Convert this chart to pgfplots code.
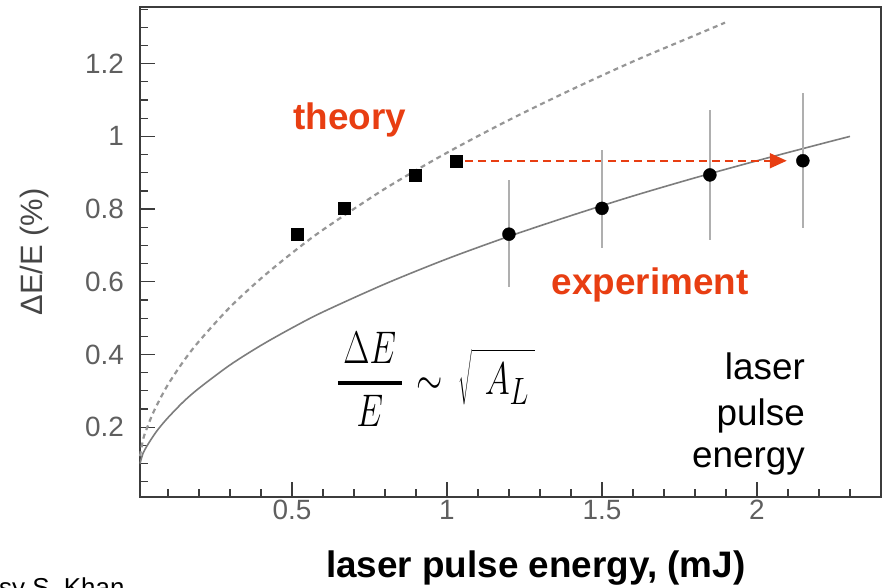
\RequirePackage{fix-cm}
\documentclass[border=0pt]{standalone}
\usepackage[no-math]{fontspec}
\setmainfont{Liberation Sans}
\usepackage{graphicx}
\usepackage{pgfplots}
\pgfplotsset{compat=1.18}
\usetikzlibrary{arrows.meta}
\definecolor{myred}{RGB}{232,62,18}
\definecolor{tickgray}{RGB}{95,95,95}
\definecolor{labgray}{RGB}{70,70,70}
\definecolor{solidgray}{RGB}{125,125,125}
\definecolor{dashgray}{RGB}{150,150,150}
\definecolor{errgray}{RGB}{175,175,175}
\definecolor{framegray}{RGB}{60,60,60}
\begin{document}
\begin{tikzpicture}[x=1bp,y=1bp]
\path[use as bounding box] (0,0) rectangle (886,588);
\begin{axis}[
  at={(140bp,91bp)}, anchor=south west,
  scale only axis, width=741bp, height=490bp,
  xmin=0.01, xmax=2.40, ymin=0.008, ymax=1.356,
  axis line style={framegray, line width=2bp},
  tick pos=left, tick align=inside,
  major tick length=15bp, minor tick length=8bp,
  tick style={framegray, line width=1.2bp},
  xtick={0.5,1,1.5,2}, xticklabels={0.5,1,1.5,2},
  ytick={0.2,0.4,0.6,0.8,1,1.2}, yticklabels={0.2,0.4,0.6,0.8,1,1.2},
  minor xtick={0.1,0.2,...,2.35},
  minor ytick={0.05,0.1,...,1.33},
  ticklabel style={font=\fontsize{28}{30}\selectfont, text=tickgray},
  yticklabel style={xshift=-12.5bp},
  xlabel={laser pulse energy, (mJ)},
  xlabel style={font=\bfseries\fontsize{37}{40}\selectfont, at={(axis description cs:0.534,0)}, anchor=base, yshift=-81bp, inner sep=0pt},
  ylabel={ΔE/E (\%)},
  ylabel style={font=\fontsize{31}{34}\selectfont, text=labgray, at={(axis description cs:-0.1417,0.5)}, anchor=center},
  clip=false,
]
% theory curve (dashed)
\addplot[dashgray, line width=2.2bp, dash pattern=on 5bp off 4bp, smooth] coordinates {
(0.01,0.120) (0.02,0.167) (0.03,0.192) (0.05,0.235) (0.07,0.270) (0.1,0.317)
(0.15,0.381) (0.2,0.436) (0.3,0.530) (0.4,0.609) (0.5,0.679) (0.6,0.743)
(0.8,0.856) (1.0,0.955) (1.2,1.045) (1.4,1.128) (1.6,1.206) (1.8,1.278) (1.897,1.313)
};
% experiment curve (solid)
\addplot[solidgray, line width=1.6bp, smooth] coordinates {
(0.01,0.100) (0.02,0.129) (0.03,0.145) (0.05,0.172) (0.07,0.196) (0.1,0.226)
(0.15,0.270) (0.2,0.307) (0.3,0.371) (0.4,0.425) (0.5,0.473) (0.6,0.517)
(0.8,0.594) (1.0,0.663) (1.2,0.725) (1.4,0.782) (1.6,0.836) (1.8,0.886)
(2.0,0.933) (2.2,0.978) (2.3,1.000)
};
% red arrow
\addplot[myred, line width=2bp, dash pattern=on 8bp off 5bp, -{Triangle[length=17bp,width=15bp]}] coordinates {(1.058,0.933) (2.096,0.933)};
% theory squares
\addplot[only marks, mark=square*, mark size=6bp, black] coordinates {(0.516,0.732) (0.668,0.803) (0.897,0.894) (1.029,0.933)};
% experiment points with error bars
\addplot[only marks, mark=*, mark size=6.5bp, black,
  error bars/.cd, y dir=both, y explicit, error mark=none,
  error bar style={errgray, line width=1.8bp}]
  table[x=x, y=y, y error plus=ep, y error minus=em] {
x y ep em
1.200 0.731 0.149 0.144
1.500 0.802 0.161 0.110
1.848 0.894 0.179 0.179
2.148 0.933 0.186 0.186
};
\node[anchor=base, inner sep=0pt, text=myred, font=\bfseries\fontsize{37}{40}\selectfont] at (axis cs:0.686,1.018) {theory};
\node[anchor=base, inner sep=0pt, text=myred, font=\bfseries\fontsize{37}{40}\selectfont] at (axis cs:1.655,0.564) {experiment};
\node[anchor=base west, inner sep=0pt] at (axis cs:0.642,0.291) {\scalebox{1.367}[1.845]{\Huge$\displaystyle{\,\Delta E\,\above 2pt E}\mkern2mu\sim\mkern3mu\sqrt{\mkern7mu\rule{0pt}{0.82em}A_L\mkern3mu}$}};
\node[anchor=base east, inner sep=0pt, font=\fontsize{37}{40}\selectfont] at (axis cs:2.155,0.330) {laser};
\node[anchor=base east, inner sep=0pt, font=\fontsize{37}{40}\selectfont] at (axis cs:2.155,0.206) {pulse};
\node[anchor=base east, inner sep=0pt, font=\fontsize{37}{40}\selectfont] at (axis cs:2.155,0.088) {energy};
\node[anchor=base west, inner sep=0pt, font=\fontsize{26}{28}\selectfont] at (axis description cs:-0.1903,-0.2033) {sy S. Khan};
\end{axis}
\end{tikzpicture}
\end{document}
